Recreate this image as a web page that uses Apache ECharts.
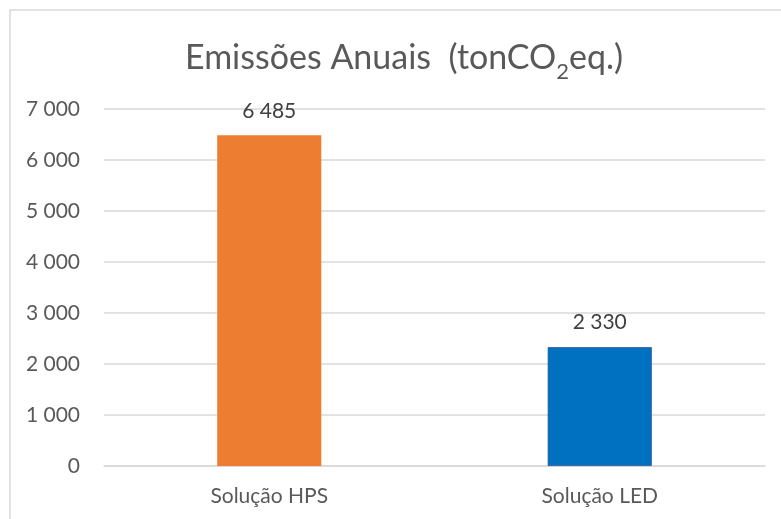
<!DOCTYPE html>
<html><head><meta charset="utf-8">
<script src="https://cdn.jsdelivr.net/npm/echarts@6/dist/echarts.min.js"></script>
<style>html,body{margin:0;padding:0;background:#fff}#c{width:781px;height:519px}</style>
</head><body><div id="c"></div>
<script>
const categories = ['Solução HPS', 'Solução LED'];
const values = [6485, 2330];
const barColors = ['#ED7D31', '#0070C0'];
const yTicks = { min: 0, max: 7000, interval: 1000 };

function fmt(v) { return String(v).replace(/\B(?=(\d{3})+(?!\d))/g, ' '); }
const FONT = 'Lato';
const chart = echarts.init(document.getElementById('c'), null, { renderer: 'canvas' });
chart.setOption({
  animation: false,
  backgroundColor: '#fff',
  graphic: [{ type: 'rect', silent: true, z: -1, shape: { x: 10, y: 10, width: 900, height: 700 },
    style: { fill: 'none', stroke: '#d9d9d9', lineWidth: 1.5 } }],
  title: {
    text: '{a|Emissões Anuais  (tonCO}{s|2}{a|eq.)}',
    left: 180, top: 26,
    textStyle: {
      fontWeight: 'normal',
      rich: {
        a: { fontFamily: FONT, fontSize: 34, fontWeight: 'normal', color: '#595959', verticalAlign: 'bottom', lineHeight: 44 },
        s: { fontFamily: FONT, fontSize: 22, fontWeight: 'normal', color: '#595959', verticalAlign: 'bottom', lineHeight: 44, padding: [0, 0, -8, 0] }
      }
    }
  },
  grid: { left: 104, right: 16, top: 109, bottom: 53, containLabel: false },
  xAxis: {
    type: 'category', data: categories,
    axisLine: { lineStyle: { color: '#d9d9d9', width: 1.5 } },
    axisTick: { show: false },
    axisLabel: { color: '#595959', fontFamily: FONT, fontSize: 21, margin: 20 }
  },
  yAxis: {
    type: 'value', min: yTicks.min, max: yTicks.max, interval: yTicks.interval,
    axisLine: { show: false }, axisTick: { show: false },
    splitLine: { lineStyle: { color: '#d9d9d9', width: 1.5 } },
    axisLabel: { color: '#595959', fontFamily: FONT, fontSize: 21, margin: 24, formatter: fmt }
  },
  series: [{
    type: 'bar', barWidth: '31.5%',
    data: values.map((v, i) => ({ value: v, itemStyle: { color: barColors[i], borderColor: i === 1 ? '#2f5597' : barColors[i], borderWidth: i === 1 ? 0.8 : 0 } })),
    label: { show: true, position: 'top', distance: 14, color: '#404040', fontFamily: FONT, fontSize: 21, formatter: p => fmt(p.value) }
  }]
});
</script></body></html>
